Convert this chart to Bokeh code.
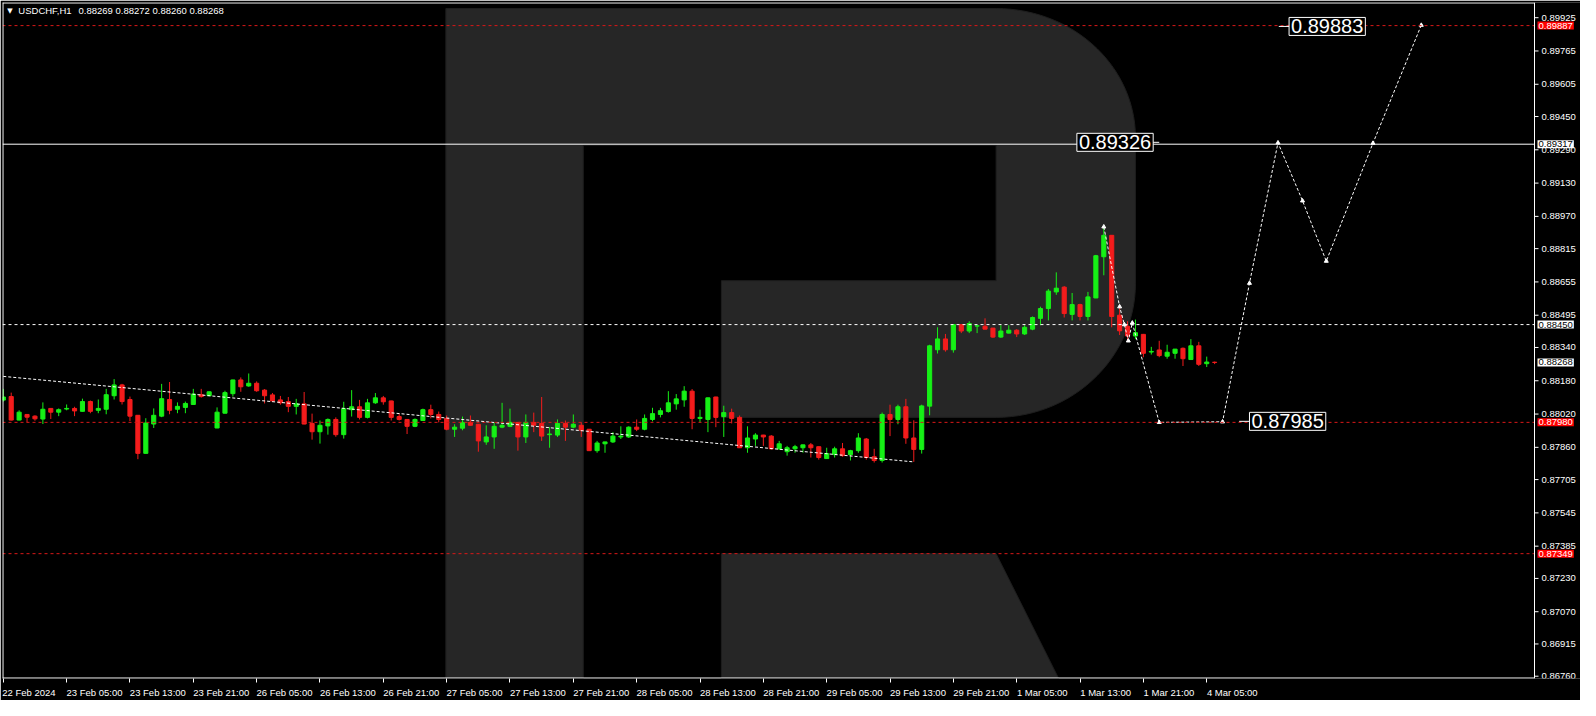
import numpy as np
from bokeh.plotting import figure
from bokeh.models import Range1d, FixedTicker, Label
from bokeh.embed import file_html
from bokeh.resources import INLINE
from bokeh.core.properties import value

# ---------------- data ----------------
bar_index = list(range(154))
opens = [0.88087, 0.88104, 0.87991, 0.88018, 0.88010, 0.87996, 0.88047, 0.88029, 0.88044, 0.88047,
         0.88033, 0.88080, 0.88038, 0.88043, 0.88108, 0.88160, 0.88090, 0.88014, 0.87831, 0.87972,
         0.88010, 0.88090, 0.88043, 0.88052, 0.88066, 0.88113, 0.88108, 0.87953, 0.88024, 0.88118,
         0.88184, 0.88155, 0.88168, 0.88135, 0.88112, 0.88088, 0.88080, 0.88057, 0.88069, 0.87975,
         0.87935, 0.87963, 0.87994, 0.87921, 0.88041, 0.88055, 0.88004, 0.88074, 0.88098, 0.88083,
         0.88008, 0.87994, 0.87961, 0.87989, 0.88041, 0.88018, 0.87999, 0.87947, 0.87952, 0.87980,
         0.87971, 0.87886, 0.87910, 0.87957, 0.87961, 0.87980, 0.87910, 0.87980, 0.87975, 0.87921,
         0.87919, 0.87975, 0.87957, 0.87966, 0.87947, 0.87844, 0.87877, 0.87886, 0.87910, 0.87910,
         0.87957, 0.87947, 0.87994, 0.88018, 0.88032, 0.88069, 0.88088, 0.88130, 0.87999, 0.87994,
         0.88102, 0.88008, 0.88027, 0.88004, 0.87858, 0.87900, 0.87919, 0.87914, 0.87853, 0.87839,
         0.87853, 0.87858, 0.87872, 0.87863, 0.87806, 0.87825, 0.87853, 0.87825, 0.87844, 0.87900,
         0.87815, 0.87797, 0.88018, 0.87994, 0.88055, 0.87905, 0.87850, 0.88058, 0.88329, 0.88381,
         0.88329, 0.88450, 0.88419, 0.88443, 0.88442, 0.88433, 0.88390, 0.88409, 0.88423, 0.88405,
         0.88428, 0.88480, 0.88527, 0.88607, 0.88630, 0.88499, 0.88546, 0.88489, 0.88578, 0.88776,
         0.88879, 0.88495, 0.88442, 0.88395, 0.88403, 0.88318, 0.88328, 0.88298, 0.88312, 0.88336,
         0.88282, 0.88348, 0.88262, 0.88269]
highs = [0.88141, 0.88123, 0.88038, 0.88020, 0.88014, 0.88076, 0.88048, 0.88047, 0.88066, 0.88055,
         0.88094, 0.88085, 0.88090, 0.88141, 0.88188, 0.88165, 0.88104, 0.88015, 0.88000, 0.88047,
         0.88165, 0.88174, 0.88076, 0.88080, 0.88141, 0.88141, 0.88128, 0.88052, 0.88132, 0.88185,
         0.88196, 0.88215, 0.88177, 0.88140, 0.88121, 0.88107, 0.88102, 0.88093, 0.88126, 0.88022,
         0.87989, 0.87999, 0.88004, 0.88079, 0.88135, 0.88088, 0.88093, 0.88121, 0.88107, 0.88084,
         0.88022, 0.87995, 0.87999, 0.88046, 0.88065, 0.88032, 0.88013, 0.87971, 0.88008, 0.88013,
         0.87972, 0.87966, 0.87980, 0.88074, 0.88046, 0.87981, 0.88018, 0.88027, 0.88102, 0.87957,
         0.87994, 0.87989, 0.88018, 0.87980, 0.87948, 0.87891, 0.87887, 0.87933, 0.87961, 0.87961,
         0.87994, 0.88018, 0.88050, 0.88050, 0.88130, 0.88116, 0.88154, 0.88140, 0.88041, 0.88099,
         0.88103, 0.88060, 0.88046, 0.88013, 0.87961, 0.87928, 0.87920, 0.87919, 0.87891, 0.87867,
         0.87872, 0.87873, 0.87881, 0.87864, 0.87858, 0.87863, 0.87881, 0.87848, 0.87928, 0.87905,
         0.87853, 0.88027, 0.88065, 0.88065, 0.88093, 0.87990, 0.88065, 0.88353, 0.88437, 0.88405,
         0.88452, 0.88452, 0.88466, 0.88445, 0.88480, 0.88434, 0.88447, 0.88447, 0.88428, 0.88447,
         0.88489, 0.88536, 0.88621, 0.88701, 0.88635, 0.88602, 0.88550, 0.88607, 0.88785, 0.88926,
         0.88880, 0.88543, 0.88466, 0.88474, 0.88405, 0.88343, 0.88372, 0.88353, 0.88333, 0.88340,
         0.88380, 0.88367, 0.88296, 0.88272]
lows = [0.88080, 0.87989, 0.87990, 0.87980, 0.87988, 0.87972, 0.87996, 0.88010, 0.88038, 0.88010,
        0.88032, 0.88024, 0.88024, 0.88019, 0.88090, 0.88066, 0.87986, 0.87803, 0.87830, 0.87953,
        0.88005, 0.88019, 0.88024, 0.88024, 0.88065, 0.88099, 0.88107, 0.87952, 0.88023, 0.88104,
        0.88127, 0.88151, 0.88127, 0.88071, 0.88079, 0.88065, 0.88029, 0.88018, 0.87971, 0.87897,
        0.87878, 0.87921, 0.87911, 0.87902, 0.88008, 0.87994, 0.87999, 0.88069, 0.88065, 0.87989,
        0.87989, 0.87924, 0.87957, 0.87988, 0.87999, 0.87980, 0.87942, 0.87910, 0.87942, 0.87965,
        0.87839, 0.87872, 0.87853, 0.87952, 0.87957, 0.87844, 0.87881, 0.87933, 0.87891, 0.87858,
        0.87910, 0.87891, 0.87952, 0.87910, 0.87843, 0.87834, 0.87834, 0.87881, 0.87900, 0.87905,
        0.87938, 0.87942, 0.87985, 0.88004, 0.88027, 0.88041, 0.88055, 0.87947, 0.87980, 0.87933,
        0.87957, 0.87910, 0.87975, 0.87857, 0.87834, 0.87867, 0.87867, 0.87848, 0.87848, 0.87820,
        0.87834, 0.87834, 0.87811, 0.87801, 0.87805, 0.87811, 0.87815, 0.87797, 0.87834, 0.87801,
        0.87787, 0.87787, 0.87914, 0.87971, 0.87877, 0.87790, 0.87830, 0.88014, 0.88311, 0.88320,
        0.88315, 0.88409, 0.88409, 0.88409, 0.88427, 0.88386, 0.88386, 0.88408, 0.88390, 0.88400,
        0.88423, 0.88447, 0.88470, 0.88593, 0.88484, 0.88470, 0.88470, 0.88470, 0.88577, 0.88687,
        0.88437, 0.88400, 0.88372, 0.88380, 0.88293, 0.88306, 0.88293, 0.88286, 0.88286, 0.88251,
        0.88281, 0.88251, 0.88246, 0.88260]
closes = [0.88102, 0.87991, 0.88029, 0.88005, 0.87997, 0.88043, 0.88029, 0.88041, 0.88047, 0.88035,
          0.88080, 0.88033, 0.88047, 0.88113, 0.88160, 0.88080, 0.88010, 0.87831, 0.87977, 0.88014,
          0.88094, 0.88038, 0.88057, 0.88071, 0.88116, 0.88104, 0.88127, 0.88029, 0.88123, 0.88184,
          0.88151, 0.88168, 0.88132, 0.88108, 0.88083, 0.88074, 0.88057, 0.88069, 0.87972, 0.87935,
          0.87966, 0.87994, 0.87921, 0.88046, 0.88055, 0.88004, 0.88074, 0.88098, 0.88079, 0.88004,
          0.87994, 0.87961, 0.87994, 0.88041, 0.88018, 0.87994, 0.87947, 0.87957, 0.87980, 0.87966,
          0.87891, 0.87910, 0.87961, 0.87966, 0.87980, 0.87910, 0.87980, 0.87966, 0.87914, 0.87924,
          0.87975, 0.87957, 0.87971, 0.87942, 0.87844, 0.87881, 0.87886, 0.87914, 0.87914, 0.87957,
          0.87947, 0.87999, 0.88022, 0.88036, 0.88074, 0.88093, 0.88130, 0.87999, 0.88004, 0.88098,
          0.88004, 0.88027, 0.87999, 0.87858, 0.87905, 0.87919, 0.87910, 0.87853, 0.87877, 0.87858,
          0.87863, 0.87872, 0.87858, 0.87811, 0.87830, 0.87853, 0.87820, 0.87844, 0.87905, 0.87811,
          0.87797, 0.88018, 0.87994, 0.88055, 0.87905, 0.87850, 0.88059, 0.88348, 0.88381, 0.88329,
          0.88450, 0.88419, 0.88455, 0.88444, 0.88428, 0.88390, 0.88419, 0.88423, 0.88405, 0.88437,
          0.88484, 0.88527, 0.88611, 0.88625, 0.88503, 0.88546, 0.88489, 0.88583, 0.88781, 0.88879,
          0.88489, 0.88420, 0.88395, 0.88411, 0.88312, 0.88321, 0.88301, 0.88317, 0.88332, 0.88286,
          0.88348, 0.88259, 0.88270, 0.88268]

x_tick_index = [0, 8, 16, 24, 32, 40, 48, 56, 64, 72, 80, 88, 96, 104, 112, 120, 128, 136, 144, 152]
x_tick_labels = ["22 Feb 2024", "23 Feb 05:00", "23 Feb 13:00", "23 Feb 21:00", "26 Feb 05:00",
                 "26 Feb 13:00", "26 Feb 21:00", "27 Feb 05:00", "27 Feb 13:00", "27 Feb 21:00",
                 "28 Feb 05:00", "28 Feb 13:00", "28 Feb 21:00", "29 Feb 05:00", "29 Feb 13:00",
                 "29 Feb 21:00", "1 Mar 05:00", "1 Mar 13:00", "1 Mar 21:00", "4 Mar 05:00"]
y_ticks = [0.89925, 0.89765, 0.89605, 0.89450, 0.89290, 0.89130, 0.88970, 0.88815, 0.88655,
           0.88495, 0.88340, 0.88180, 0.88020, 0.87860, 0.87705, 0.87545, 0.87385, 0.87230,
           0.87070, 0.86915, 0.86760]
y_tick_labels = ["0.89925", "0.89765", "0.89605", "0.89450", "0.89290", "0.89130", "0.88970",
                 "0.88815", "0.88655", "0.88495", "0.88340", "0.88180", "0.88020", "0.87860",
                 "0.87705", "0.87545", "0.87385", "0.87230", "0.87070", "0.86915", "0.86760"]

level_prices = [0.89887, 0.89317, 0.88450, 0.87980, 0.87349]
level_colors = ["#d81818", "#ffffff", "#ffffff", "#d81818", "#d81818"]
level_dashes = ["3 3", "solid", "3 3", "3 3", "3 3"]

tag_prices = [0.89887, 0.89317, 0.88450, 0.88268, 0.87980, 0.87349]
tag_texts = ["0.89887", "0.89317", "0.88450", "0.88268", "0.87980", "0.87349"]
tag_bg = ["#ff0000", "#ffffff", "#ffffff", "#ffffff", "#ff0000", "#ff0000"]
tag_fg = ["#ffffff", "#000000", "#000000", "#000000", "#ffffff", "#ffffff"]

trend_index = [0, 115]
trend_price = [0.88201, 0.87790]

wave_index = [139, 141.0, 141.6, 142.1, 142.6, 146.0, 154.0, 157.4, 161.0, 164.1, 167.1, 173.0, 179.1]
wave_price = [0.88920, 0.88536, 0.88450, 0.88372, 0.88458, 0.87980, 0.87983, 0.88649, 0.89324,
              0.89045, 0.88755, 0.89322, 0.89889]

box_texts = ["0.89883", "0.89326", "0.87985"]
box_prices = [0.89883, 0.89326, 0.87985]
box_left = [162.4, 135.6, 157.4]
stub_x0 = [161.1, 144.8, 156.1]
stub_x1 = [162.4, 146.0, 157.4]

header_symbol = "USDCHF,H1"
header_values = "0.88269 0.88272 0.88260 0.88268"

# ---------------- figure ----------------
W, H = 1580, 700
BORDER_T, BORDER_B = 2, 18
X0, XR = -0.1, 193.4            # chart area (left edge .. price-scale line)
PLOT_PX = 1532                   # pixel width of the chart area
PXI = PLOT_PX / (XR - X0)
X1 = X0 + (W - 2) / PXI          # frame also covers the price scale strip
Y0, Y1 = 0.86749, 0.89998
PYU = (H - BORDER_T - BORDER_B) / (Y1 - Y0)
FONT = "Liberation Sans"

p = figure(width=W, height=H, x_range=Range1d(X0, X1), y_range=Range1d(Y0, Y1),
           y_axis_location=None, output_backend="svg", toolbar_location=None,
           background_fill_color="#000000", border_fill_color="#000000",
           min_border_left=2, min_border_top=BORDER_T, min_border_right=0,
           min_border_bottom=BORDER_B)
p.outline_line_color = None
p.grid.visible = False

# watermark logo (decorative)
top_l, cnt_top, cnt_bot, bowl_bot, leg_top = 0.89969, 0.89312, 0.88661, 0.88004, 0.87349
stem_l, stem_r, mid_l, cnt_r, out_r = 55.9, 73.25, 90.7, 125.4, 143.0
rx = out_r - cnt_r
ry1, ry2 = 0.0062, 0.00645
t1 = np.linspace(np.pi / 2, 0, 30)
t2 = np.linspace(0, -np.pi / 2, 30)
lx = [stem_l, stem_l] + list(cnt_r + rx * np.cos(t1)) + list(cnt_r + rx * np.cos(t2)) + \
     [mid_l, mid_l, cnt_r, cnt_r, stem_r, stem_r]
ly = [Y0, top_l] + list(top_l - ry1 + ry1 * np.sin(t1)) + list(bowl_bot + ry2 + ry2 * np.sin(t2)) + \
     [bowl_bot, cnt_bot, cnt_bot, cnt_top, cnt_top, Y0]
p.patch(lx, ly, fill_color="#262626", line_color="#1e1e1e", line_width=1)
p.patch([mid_l, cnt_r, 133.3, mid_l], [leg_top, leg_top, Y0, Y0],
        fill_color="#262626", line_color="#1e1e1e", line_width=1)

# candles
bull = "#16f016"
bear = "#f41c1c"
cols = [bull if c >= o else bear for o, c in zip(opens, closes)]
tops = [max(o, c) for o, c in zip(opens, closes)]
bots = [min(o, c) for o, c in zip(opens, closes)]
p.segment(bar_index, highs, bar_index, lows, line_color=cols, line_width=1)
p.vbar(x=bar_index, width=0.52, top=tops, bottom=bots, fill_color=cols, line_color=cols, line_width=1)

# trend line and forecast path
p.line(trend_index, trend_price, line_color="#ffffff", line_width=1, line_dash="3 2")
p.line(wave_index, wave_price, line_color="#ffffff", line_width=1, line_dash="3 2")
p.scatter(wave_index, wave_price, marker="triangle", size=4, fill_color="#ffffff", line_color="#ffffff")

# horizontal price levels (stop at the price scale)
for lp, lc, ld in zip(level_prices, level_colors, level_dashes):
    p.line([X0, XR], [lp, lp], line_color=lc, line_width=1, line_dash=ld)

# chart borders
half_x, half_y = 0.5 / PXI, 0.5 / PYU
p.line([X0 + half_x, X0 + half_x], [Y0, Y1], line_color="#ffffff", line_width=1)
p.line([X0, XR], [Y1 - half_y, Y1 - half_y], line_color="#ffffff", line_width=1)
p.line([X0, XR], [Y0 + half_y, Y0 + half_y], line_color="#ffffff", line_width=1)
p.line([XR, XR], [Y0, Y1], line_color="#ffffff", line_width=1)

# price scale ticks and labels
tick_len = 4 / PXI
p.segment([XR] * len(y_ticks), y_ticks, [XR + tick_len] * len(y_ticks), y_ticks,
          line_color="#ffffff", line_width=1)
p.text(x=[XR + 7 / PXI] * len(y_ticks), y=y_ticks, text=y_tick_labels,
       text_font=value(FONT), text_font_size=value("9.5px"), text_color="#ffffff",
       text_align="left", text_baseline="middle")

# boxed price labels with stubs
p.segment(stub_x0, box_prices, stub_x1, box_prices, line_color="#ffffff", line_width=1)
for t, bp, bl in zip(box_texts, box_prices, box_left):
    p.add_layout(Label(x=bl, y=bp, text=t, text_align="left", text_baseline="middle",
                       text_font=FONT, text_font_size="20px", text_color="#ffffff",
                       background_fill_color="#000000", border_line_color="#ffffff",
                       border_line_width=1, padding=2))

# price tags on the scale
for tp, tt, bg, fg in zip(tag_prices, tag_texts, tag_bg, tag_fg):
    p.add_layout(Label(x=XR, y=tp, x_offset=3, text=tt, text_align="left", text_baseline="middle",
                       text_font=FONT, text_font_size="9.5px", text_color=fg,
                       background_fill_color=bg, border_line_color=None, padding=1))

# time axis
xa = p.xaxis[0]
centers = [ti + len(lab) * 4.65 / 2 / PXI for ti, lab in zip(x_tick_index, x_tick_labels)]
xa.ticker = FixedTicker(ticks=centers, minor_ticks=x_tick_index)
xa.major_label_overrides = {c: lab for c, lab in zip(centers, x_tick_labels)}
xa.major_tick_in = 0
xa.major_tick_out = 0
xa.minor_tick_in = 0
xa.minor_tick_out = 4
xa.minor_tick_line_color = "#ffffff"
xa.axis_line_color = None
xa.major_label_text_color = "#ffffff"
xa.major_label_text_font = FONT
xa.major_label_text_font_size = "9.5px"
xa.major_label_standoff = 4

# header
hy = Y1 - 8.5 / PYU
p.add_layout(Label(x=0.5, y=hy, text="\u25bc", text_align="left", text_baseline="middle",
                   text_font="DejaVu Sans", text_font_size="7px", text_color="#ffffff"))
p.add_layout(Label(x=1.9, y=hy, text=header_symbol, text_align="left", text_baseline="middle",
                   text_font=FONT, text_font_size="9.5px", text_color="#ffffff"))
p.add_layout(Label(x=9.5, y=hy, text=header_values, text_align="left", text_baseline="middle",
                   text_font=FONT, text_font_size="9.5px", text_color="#ffffff"))

open("out.html", "w").write(file_html(p, INLINE))
